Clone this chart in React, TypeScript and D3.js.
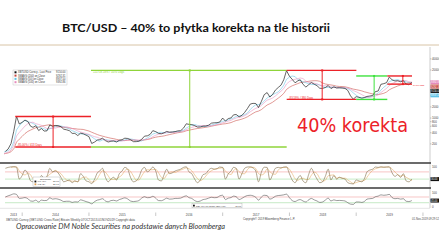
import React from 'react';
import * as d3 from 'd3';

// ---------- DATA (semi-monthly: 1st and 16th of each month) ----------
// history before the visible window (only used for the moving averages), Oct 2012 - Sep 2013
const priorPrices = [12, 11.5, 11, 12, 12.5, 13.5, 13.5, 15, 20, 26, 33, 47, 100, 90, 115, 120, 122, 100, 90, 97, 105, 110, 130, 127];

// BTC/USD, Oct 2013 - 1 Nov 2019
const prices = [
  125, 145, 205, 440, 1120, 690,
  770, 880, 810, 600, 560, 620, 460, 520, 445, 450, 650, 600, 630, 620, 585, 500, 480, 455, 385, 385, 335, 390, 375, 345,
  315, 205, 225, 255, 260, 285, 245, 225, 235, 240, 225, 250, 260, 285, 280, 260, 230, 230, 235, 265, 325, 330, 360, 455,
  430, 385, 375, 400, 435, 415, 420, 430, 450, 455, 535, 700, 675, 665, 625, 570, 575, 605, 610, 640, 730, 745, 750, 780,
  1000, 830, 970, 1010, 1220, 1250, 1080, 1180, 1420, 1800, 2400, 2500, 2480, 1930, 2850, 4300, 4900, 3700, 4340, 5700, 6750, 7800, 10900, 19300,
  13600, 11200, 9000, 10200, 10900, 8200, 6900, 8000, 9200, 8300, 7500, 6400, 6350, 6700, 7600, 6300, 7000, 6500, 6600, 6500, 6350, 5600, 4000, 3250,
  3800, 3650, 3450, 3600, 3850, 3950, 4100, 5200, 5400, 8200, 8550, 9100, 12900, 10900, 10100, 10300, 9600, 10300, 8300, 8000, 9150,
];

// Stochastic oscillator (upper lower panel)
const stochValues = [
  90, 95, 98, 99, 96, 30,
  50, 80, 60, 20, 15, 40, 10, 50, 35, 45, 90, 70, 75, 65, 40, 15, 20, 25, 10, 20, 15, 60, 45, 20,
  15, 5, 30, 65, 75, 90, 40, 15, 30, 40, 25, 60, 75, 95, 85, 40, 15, 20, 40, 80, 95, 70, 80, 97,
  75, 25, 20, 55, 85, 60, 65, 75, 80, 85, 95, 98, 70, 60, 30, 10, 25, 55, 60, 80, 90, 85, 88, 97,
  95, 30, 60, 75, 95, 90, 30, 60, 90, 97, 98, 92, 75, 15, 70, 96, 95, 25, 55, 90, 95, 92, 97, 98,
  60, 25, 10, 35, 50, 20, 10, 55, 90, 60, 30, 10, 15, 45, 85, 25, 50, 30, 40, 35, 30, 10, 5, 3,
  25, 20, 15, 35, 70, 80, 85, 97, 95, 98, 96, 97, 98, 65, 45, 55, 40, 60, 20, 15, 30,
];

// RSI (bottom panel)
const rsiValues = [
  70, 78, 85, 92, 88, 60,
  62, 66, 58, 42, 40, 48, 35, 48, 45, 46, 65, 55, 58, 55, 48, 38, 40, 40, 32, 36, 35, 50, 45, 38,
  32, 22, 38, 48, 52, 58, 42, 36, 45, 47, 42, 52, 58, 64, 56, 42, 38, 40, 45, 62, 72, 65, 66, 75,
  62, 45, 44, 52, 62, 55, 56, 60, 60, 62, 72, 78, 65, 60, 45, 38, 42, 52, 55, 62, 68, 65, 66, 78,
  82, 52, 62, 66, 76, 72, 52, 60, 72, 80, 82, 78, 68, 48, 70, 82, 80, 55, 62, 75, 80, 82, 85, 90,
  65, 45, 38, 48, 52, 42, 35, 50, 60, 50, 42, 32, 35, 48, 62, 42, 50, 45, 46, 45, 42, 30, 20, 18,
  35, 35, 32, 40, 55, 58, 60, 72, 76, 85, 82, 84, 88, 66, 58, 60, 55, 58, 40, 38, 45,
];

const yearLabels = ['2013', '2014', '2015', '2016', '2017', '2018', '2019'];
const priceTicks = [40000, 20000, 10000, 6000, 4000, 2000, 1000, 800, 600, 400, 200];
const stochTicks = [100, 50];
const rsiTicks = [100, 0];
const maWindows = [13, 4, 7]; // ~200d, ~50d, ~100d in semi-monthly steps
const maNames = ['SMAVG (200) on Close', 'SMAVG (50) on Close', 'SMAVG (100) on Close'];
const maColors = ['#c8463f', '#62c3e6', '#e58bbd'];

// correction / rally boxes
const boxStarts = ['2013-11-24', '2015-01-12', '2017-12-17', '2019-01-01', '2019-06-20'];
const boxEnds = ['2015-01-12', '2017-12-17', '2019-01-02', '2019-06-20', '2019-11-02'];
const boxVerticals = ['2014-06-19', '2016-07-05', '2018-06-29', '2019-04-09', '2019-09-13'];
const boxTops = [1100, 19500, 19500, 13800, 13800];
const boxBottoms = [165, 165, 3200, 3200, 8300];
const boxLabels = ['-85.00% / 413 Days', '+11718.18% / 1070 Days', '-83.59% / 380 Days', '', '-39.86%/135D'];
const boxColors = ['#ec2228', '#8fd43a', '#ec2228', '#3fe23f', '#ec2228'];

const titleText = 'BTC/USD – 40% to płytka korekta na tle historii';
const bigText = '40% korekta';
const captionText = 'Opracowanie DM Noble Securities na podstawie danych Bloomberga';

export default function App() {
  const W = 439, H = 247;
  const off = priorPrices.length;
  const allPrices = [...priorPrices, ...prices];
  const n = Math.min(prices.length, stochValues.length, rsiValues.length);
  const dateAt = (k: number) => new Date(2012, 9 + Math.floor(k / 2), k % 2 ? 16 : 1);
  const parse = d3.timeParse('%Y-%m-%d');

  const x = d3.scaleTime().domain([new Date(2013, 8, 29), new Date(2020, 1, 3)]).range([5, 429]);
  const y = d3.scaleLog().domain([100, 40000]).range([155, 58.9]);
  const yS = d3.scaleLinear().domain([0, 100]).range([184.5, 166.5]);
  const yR = d3.scaleLinear().domain([0, 100]).range([207, 192.7]);

  const sma = (arr: number[], w: number) =>
    arr.map((_, i) => (i < w - 1 ? null : (d3.mean(arr.slice(i - w + 1, i + 1)) as number)));

  type P = [Date, number | null];
  const line = d3.line<P>().defined(d => d[1] != null).x(d => x(d[0])).y(d => y(d[1] as number));
  const priceLine = line(prices.slice(0, n).map((v, i) => [dateAt(i + off), v]));
  const mas = maWindows.map(w => sma(allPrices, w));
  const maPaths = mas.map(m => line(m.map((v, k) => [dateAt(k), v] as P).filter((_, k) => k >= off - 1 && k < off + n)));
  const maLast = mas.map(m => m[off + n - 1] as number);

  const sLine = d3.line<P>().defined(d => d[1] != null).x(d => x(d[0])).y(d => yS(d[1] as number)).curve(d3.curveMonotoneX);
  const rLine = d3.line<P>().defined(d => d[1] != null).x(d => x(d[0])).y(d => yR(d[1] as number)).curve(d3.curveMonotoneX);
  const stochPts: P[] = stochValues.slice(0, n).map((v, i) => [dateAt(i + off), v]);
  const stochD = sma(stochValues.slice(0, n), 3);
  const stochDPts: P[] = stochD.map((v, i) => [dateAt(i + off), v]);
  const rsiPts: P[] = rsiValues.slice(0, n).map((v, i) => [dateAt(i + off), v]);

  const yearStarts = d3.timeYear.range(new Date(2014, 0, 1), new Date(2020, 0, 2));
  const yearMid = yearLabels.map((_, i) => {
    const a = i === 0 ? x.domain()[0] : new Date(2013 + i, 0, 1);
    const b = new Date(2014 + i, 0, 1);
    return (x(a) + x(b)) / 2;
  });

  // right tags (stacked)
  const tagItems = [
    { v: prices[n - 1], c: '#111', t: prices[n - 1].toFixed(2) },
    ...maLast.map((v, i) => ({ v, c: maColors[i], t: v.toFixed(2) })),
  ]
    .map(d => ({ ...d, yy: y(d.v) }))
    .sort((a, b) => a.yy - b.yy);
  for (let i = 1; i < tagItems.length; i++) {
    if (tagItems[i].yy - tagItems[i - 1].yy < 4.4) tagItems[i].yy = tagItems[i - 1].yy + 4.4;
  }
  const freeTick = (yy: number) => tagItems.every(t => Math.abs(t.yy - yy) > 4);

  const font = 'Liberation Sans, Arial, sans-serif';
  const legendRows = [
    { c: '#111', t: 'XBTUSD Curncy - Last Price', v: prices[n - 1].toFixed(2) },
    ...maNames.map((t, i) => ({ c: maColors[i], t, v: maLast[i].toFixed(2) })),
  ];
  const sLast = stochValues[n - 1];
  const rLast = rsiValues[n - 1];

  return (
    <svg width={W} height={H} viewBox={`0 0 ${W} ${H}`}
      style={{ position: 'absolute', left: 0, top: 0, background: '#fff' }}>
      <defs>
        <clipPath id="pclip"><rect x={4} y={47} width={426} height={115} /></clipPath>
        <clipPath id="oclip"><rect x={4} y={164} width={426} height={44} /></clipPath>
      </defs>
      <rect x={0} y={0} width={W} height={H} fill="#fff" />

      {/* title */}
      <text x={62} y={31.5} fontFamily="Lato, 'DejaVu Sans', sans-serif" fontWeight={700} fontSize={10.5}
        textLength={268} lengthAdjust="spacingAndGlyphs" fill="#111">{titleText}</text>
      <line x1={0} x2={W} y1={45} y2={45} stroke="#d8c4a6" strokeWidth={1} />

      {/* price panel */}
      <g clipPath="url(#pclip)">
        {maPaths.map((d, i) => (
          <path key={i} d={d || ''} fill="none" stroke={maColors[i]} strokeWidth={0.55} />
        ))}
        <path d={priceLine || ''} fill="none" stroke="#111" strokeWidth={0.65} />
        {boxStarts.map((s, i) => {
          const x0 = x(parse(s) as Date), x1 = x(parse(boxEnds[i]) as Date), xv = x(parse(boxVerticals[i]) as Date);
          const yt = y(boxTops[i]), yb = y(boxBottoms[i]);
          const c = boxColors[i];
          const labelTop = i === 1;
          const labelRight = i === 4;
          return (
            <g key={i}>
              <line x1={x0} x2={x1} y1={yt} y2={yt} stroke={c} strokeWidth={1.4} />
              <line x1={x0} x2={x1} y1={yb} y2={yb} stroke={c} strokeWidth={1.4} />
              <line x1={xv} x2={xv} y1={yt} y2={yb} stroke={c} strokeWidth={1} />
              <rect x={xv - 1} y={yt - 1} width={2} height={2} fill={c} />
              <rect x={xv - 1} y={yb - 1} width={2} height={2} fill={c} />
              {boxLabels[i] && (
                labelRight ? (
                  <text x={x1 + 0.5} y={yb + 2} fontFamily={font} fontSize={2.4} fill={c}
                    textLength={12} lengthAdjust="spacingAndGlyphs">{boxLabels[i]}</text>
                ) : (
                  <text x={x0 + 2} y={labelTop ? yt + 3 : yb - 0.6}
                    fontFamily={font} fontSize={2.8} fill={c}>{boxLabels[i]}</text>
                )
              )}
            </g>
          );
        })}
      </g>

      {/* legend */}
      <rect x={13} y={70} width={54} height={15} fill="#fff" stroke="#bbb" strokeWidth={0.4} />
      {legendRows.map((r, i) => (
        <g key={i}>
          <rect x={14.5} y={71.3 + i * 3.3} width={2} height={2} fill={r.c} />
          <text x={18} y={73.2 + i * 3.3} fontFamily={font} fontSize={2.6} fill="#333">{r.t}</text>
          <text x={65.5} y={73.2 + i * 3.3} fontFamily={font} fontSize={2.6} fill="#333" textAnchor="end">{r.v}</text>
        </g>
      ))}

      {/* big annotation */}
      <text x={297} y={131.5} fontFamily="'DejaVu Sans', Verdana, sans-serif" fontSize={19} fill="#ec2228"
        textLength={111} lengthAdjust="spacingAndGlyphs">{bigText}</text>

      {/* right axis */}
      <line x1={430} x2={430} y1={47} y2={208} stroke="#999" strokeWidth={0.5} />
      {priceTicks.map(t => (
        <g key={t}>
          <line x1={430} x2={431.5} y1={y(t)} y2={y(t)} stroke="#777" strokeWidth={0.4} />
          {freeTick(y(t)) && (
            <text x={432} y={y(t) + 1} fontFamily={font} fontSize={2.9} fill="#444">{t}</text>
          )}
        </g>
      ))}
      {tagItems.map((d, i) => (
        <g key={i}>
          <rect x={430.5} y={d.yy - 2} width={8.5} height={4} fill={d.c} />
          <text x={431} y={d.yy + 1} fontFamily={font} fontSize={2.6} fill="#fff">{d.t}</text>
        </g>
      ))}

      {/* oscillator panels */}
      <line x1={0} x2={431} y1={163} y2={163} stroke="#3a3a3a" strokeWidth={1.6} />
      <line x1={0} x2={431} y1={188} y2={188} stroke="#3a3a3a" strokeWidth={1.6} />
      <line x1={0} x2={430} y1={208.3} y2={208.3} stroke="#bbb" strokeWidth={0.4} />
      <line x1={5} x2={429} y1={yS(70)} y2={yS(70)} stroke="#f08c8c" strokeWidth={0.5} />
      <line x1={5} x2={429} y1={yS(30)} y2={yS(30)} stroke="#8fd48f" strokeWidth={0.5} />
      <line x1={5} x2={429} y1={yR(70)} y2={yR(70)} stroke="#f08c8c" strokeWidth={0.5} />
      <line x1={5} x2={429} y1={yR(30)} y2={yR(30)} stroke="#8fd48f" strokeWidth={0.5} />
      <g clipPath="url(#oclip)">
        <path d={sLine(stochDPts) || ''} fill="none" stroke="#e0a050" strokeWidth={0.5} />
        <path d={sLine(stochPts) || ''} fill="none" stroke="#7d6a45" strokeWidth={0.6} />
        <path d={rLine(rsiPts) || ''} fill="none" stroke="#4a4a4a" strokeWidth={0.55} />
      </g>
      {stochTicks.filter(t => Math.abs(yS(t) - yS(sLast)) > 4).map(t => (
        <text key={'s' + t} x={432} y={yS(t) + 1} fontFamily={font} fontSize={2.9} fill="#444">{t}</text>
      ))}
      {rsiTicks.filter(t => Math.abs(yR(t) - yR(rLast)) > 4).map(t => (
        <text key={'r' + t} x={432} y={yR(t) + 1} fontFamily={font} fontSize={2.9} fill="#444">{t}</text>
      ))}
      <rect x={430.5} y={yS(sLast) - 2} width={8.5} height={4} fill="#111" />
      <text x={431} y={yS(sLast) + 1} fontFamily={font} fontSize={2.6} fill="#fff">{sLast.toFixed(2)}</text>
      <rect x={430.5} y={yR(rLast) - 2} width={8.5} height={4} fill="#111" />
      <text x={431} y={yR(rLast) + 1} fontFamily={font} fontSize={2.6} fill="#fff">{rLast.toFixed(2)}</text>

      {/* oscillator legends */}
      <rect x={33} y={177} width={27} height={9.5} fill="#fff" stroke="#aaa" strokeWidth={0.4} />
      <text x={40} y={179.6} fontFamily={font} fontSize={2.4} fill="#333">Stochastic</text>
      <rect x={34.5} y={180.6} width={1.8} height={1.8} fill="#111" />
      <text x={37.5} y={182.3} fontFamily={font} fontSize={2.4} fill="#333">%K (14)</text>
      <text x={59} y={182.3} fontFamily={font} fontSize={2.4} fill="#333" textAnchor="end">{sLast.toFixed(2)}</text>
      <rect x={34.5} y={183.4} width={1.8} height={1.8} fill="#e0a050" />
      <text x={37.5} y={185.1} fontFamily={font} fontSize={2.4} fill="#333">%D (3)</text>
      <text x={59} y={185.1} fontFamily={font} fontSize={2.4} fill="#333" textAnchor="end">{(stochD[n - 1] as number).toFixed(2)}</text>

      <rect x={192} y={203.6} width={50} height={4.2} fill="#fff" stroke="#aaa" strokeWidth={0.4} />
      <rect x={193} y={204.7} width={1.8} height={1.8} fill="#111" />
      <text x={196} y={206.5} fontFamily={font} fontSize={2.4} fill="#333">RSI (14) on Close (SMAVG)</text>
      <text x={241} y={206.5} fontFamily={font} fontSize={2.4} fill="#333" textAnchor="end">{rLast.toFixed(2)}</text>

      {/* x axis */}
      {yearStarts.map((d, i) => (
        <line key={i} x1={x(d)} x2={x(d)} y1={212.5} y2={216} stroke="#777" strokeWidth={0.4} />
      ))}
      {yearLabels.map((l, i) => (
        <text key={l} x={yearMid[i]} y={215.6} textAnchor="middle" fontFamily={font} fontSize={3} fill="#444">{l}</text>
      ))}

      {/* source line */}
      <text x={6} y={220.6} fontFamily={font} fontSize={2.7} fill="#444" textLength={129} lengthAdjust="spacingAndGlyphs">
        XBTUSD Curncy (XBT-USD Cross Rate) Bitcoin Weekly 07OCT2013-01NOV2019 Copyright data
      </text>
      <text x={243} y={220} fontFamily={font} fontSize={2.7} fill="#444" textLength={52} lengthAdjust="spacingAndGlyphs">
        Copyright© 2019 Bloomberg Finance L.P.
      </text>
      <text x={412} y={220} fontFamily={font} fontSize={2.7} fill="#444" textLength={27} lengthAdjust="spacingAndGlyphs">
        01-Nov-2019 09:29:12
      </text>

      {/* caption */}
      <text x={16} y={229} fontFamily="Lato, 'DejaVu Sans', sans-serif" fontStyle="italic" fontSize={6.6} fill="#333"
        textLength={209} lengthAdjust="spacingAndGlyphs">{captionText}</text>
    </svg>
  );
}
